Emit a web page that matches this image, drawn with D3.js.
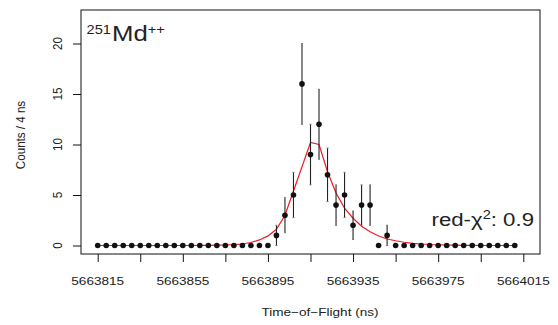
<!DOCTYPE html>
<html>
<head>
<meta charset="utf-8">
<script src="https://cdn.jsdelivr.net/npm/d3@7/dist/d3.min.js"></script>
<style>
html,body{margin:0;padding:0;background:#fff;}
svg{display:block;}
text{font-family:"Liberation Sans",Arial,Helvetica,sans-serif;fill:#222;}
</style>
</head>
<body>
<svg id="chart" width="558" height="325"></svg>
<script>
// Time-of-flight bins (ns)
const tof = [5663815,5663819,5663823,5663827,5663831,5663835,5663839,5663843,5663847,5663851,
  5663855,5663859,5663863,5663867,5663871,5663875,5663879,5663883,5663887,5663891,
  5663895,5663899,5663903,5663907,5663911,5663915,5663919,5663923,5663927,5663931,
  5663935,5663939,5663943,5663947,5663951,5663955,5663959,5663963,5663967,5663971,
  5663975,5663979,5663983,5663987,5663991,5663995,5663999,5664003,5664007,5664011];
// Counts per 4 ns
const counts = [0,0,0,0,0,0,0,0,0,0, 0,0,0,0,0,0,0,0,0,0,
  0,1,3,5,16,9,12,7,4,5, 2,4,4,0,1,0,0,0,0,0, 0,0,0,0,0,0,0,0,0,0];
// Error bars (±)
const errs = [0,0,0,0,0,0,0,0,0,0, 0,0,0,0,0,0,0,0,0,0,
  0,1,1.73,2.24,4,3,3.46,2.65,2,2.24, 1.41,2,2,0,1,0,0,0,0,0, 0,0,0,0,0,0,0,0,0,0];
// Fitted curve
const fit = [0,0,0,0,0,0,0,0,0,0, 0,0,0.01,0.02,0.03,0.05,0.08,0.15,0.3,0.55,
  0.95,1.6,3.0,5.4,7.8,10.2,10.0,7.3,5.2,3.7, 2.7,1.9,1.37,0.94,0.64,0.47,0.32,0.22,0.15,0.1,
  0.07,0.05,0.03,0.02,0.01,0,0,0,0,0];
const xTicks = [5663815,5663835,5663855,5663875,5663895,5663915,5663935,5663955,5663975,5663995,5664015];
const xLabelTicks = [5663815,5663855,5663895,5663935,5663975,5664015];
const yTicks = [0,5,10,15,20];

const SX = 1.17; // horizontal stretch of the reference
const svg = d3.select("#chart");
const box = {l:81, r:540, t:10, b:254};
const x = d3.scaleLinear().domain([5663815,5664015]).range([97.7,523.3]);
const y = d3.scaleLinear().domain([0,20]).range([245.5,43.5]);

// box
svg.append("rect").attr("x",box.l).attr("y",box.t).attr("width",box.r-box.l).attr("height",box.b-box.t)
  .attr("fill","none").attr("stroke","#111").attr("stroke-width",1);

// x axis
const xa = svg.append("g").attr("transform",`translate(0,${box.b})`)
  .call(d3.axisBottom(x).tickValues(xTicks).tickSize(8).tickFormat(""));
xa.select(".domain").remove();
xa.selectAll("line").attr("stroke","#111");
svg.append("g").selectAll("text").data(xLabelTicks).join("text")
  .attr("transform",d=>`translate(${x(d)},285) scale(${SX},1)`)
  .attr("text-anchor","middle").attr("font-size",11.6).text(d=>d);

// y axis
const ya = svg.append("g").attr("transform",`translate(${box.l},0)`)
  .call(d3.axisLeft(y).tickValues(yTicks).tickSize(8).tickFormat(""));
ya.select(".domain").remove();
ya.selectAll("line").attr("stroke","#111");
svg.append("g").selectAll("text").data(yTicks).join("text")
  .attr("transform",d=>`translate(61.7,${y(d)}) scale(${SX},1) rotate(-90)`)
  .attr("text-anchor","middle").attr("font-size",11.6).text(d=>d);

// axis titles
svg.append("text").attr("transform",`translate(320,315.5) scale(${SX},1)`)
  .attr("text-anchor","middle").attr("font-size",11.6).text("Time\u2212of\u2212Flight (ns)");
svg.append("text").attr("transform",`translate(25,135) scale(${SX},1) rotate(-90)`)
  .attr("text-anchor","middle").attr("font-size",11.6).text("Counts / 4 ns");

// fit curve
const line = d3.line().x((d,i)=>x(tof[i])).y(d=>y(d));
svg.append("path").datum(fit).attr("d",line).attr("fill","none")
  .attr("stroke","#ee1c25").attr("stroke-width",1.2);

// error bars
const idx = d3.range(tof.length).filter(i=>errs[i]>0);
const eb = svg.append("g");
eb.selectAll("line.bar").data(idx).join("line").attr("class","bar")
  .attr("x1",i=>x(tof[i])).attr("x2",i=>x(tof[i]))
  .attr("y1",i=>y(counts[i]-errs[i])).attr("y2",i=>y(counts[i]+errs[i]))
  .attr("stroke","#222").attr("stroke-width",1.1);
["lo","hi"].forEach(k=>{
  eb.selectAll("line.cap"+k).data(idx).join("line").attr("class","cap"+k)
    .attr("x1",i=>x(tof[i])-1).attr("x2",i=>x(tof[i])+1)
    .attr("y1",i=>y(k==="lo"?counts[i]-errs[i]:counts[i]+errs[i]))
    .attr("y2",i=>y(k==="lo"?counts[i]-errs[i]:counts[i]+errs[i]))
    .attr("stroke","#777").attr("stroke-width",1);
});

// points
svg.append("g").selectAll("circle").data(counts).join("circle")
  .attr("cx",(d,i)=>x(tof[i])).attr("cy",d=>y(d)).attr("r",2.8).attr("fill","#111");

// labels
const t1 = svg.append("text").attr("transform",`translate(86.5,40.7) scale(${SX},1)`);
t1.append("tspan").attr("font-size",12.5).attr("dy",-7.2).text("251");
t1.append("tspan").attr("font-size",22).attr("dy",7.2).attr("dx",1).text("Md");
t1.append("tspan").attr("font-size",12.5).attr("dy",-6.5).text("++");

const t2 = svg.append("text").attr("transform",`translate(534,226) scale(${SX},1)`)
  .attr("text-anchor","end");
t2.append("tspan").attr("font-size",19).text("red-\u03C7");
t2.append("tspan").attr("font-size",12.5).attr("dy",-7.5).text("2");
t2.append("tspan").attr("font-size",19).attr("dy",7.5).text(": 0.9");
</script>
</body>
</html>
